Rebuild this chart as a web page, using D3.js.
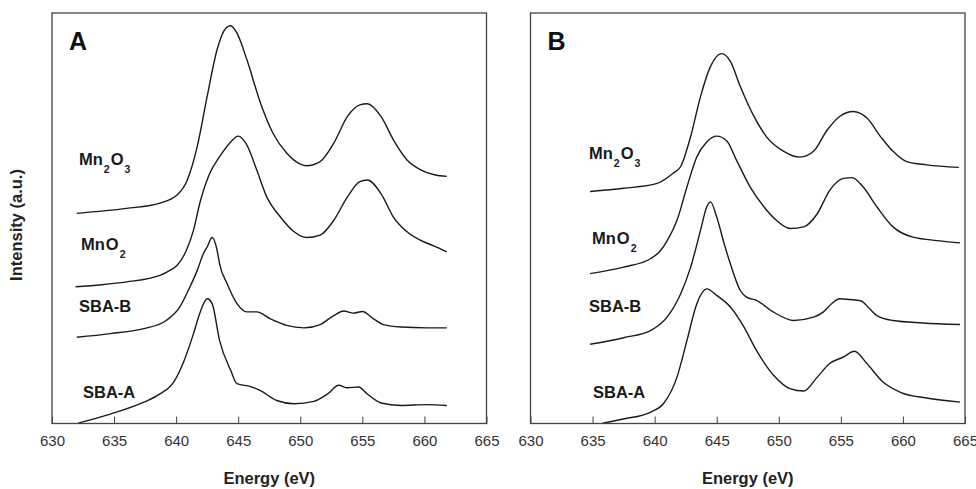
<!DOCTYPE html>
<html lang="en">
<head>
  <meta charset="utf-8" />
  <title>Mn L-edge spectra</title>
  <style>
    html, body { margin: 0; background: #fff; }
    svg { display: block; font-family: Arial, "Liberation Sans", sans-serif; }
  </style>
  <script src="https://cdn.jsdelivr.net/npm/d3@7"></script>
</head>
<body>
<script>
// Energy (eV), intensity (a.u., offset stacked as printed)
const aMn2O3 = [[632.0,51.2],[636.0,52.4],[638.7,53.7],[640.1,55.7],[640.9,59.3],[641.7,67.5],[642.5,79.7],[643.3,91.1],[644.0,96.3],[644.4,96.9],[644.9,95.1],[645.7,88.6],[646.8,78.0],[647.8,70.7],[648.9,65.9],[650.0,63.2],[650.5,62.8],[651.6,63.8],[652.7,68.3],[653.8,74.8],[654.8,77.6],[655.4,77.9],[656.5,74.8],[657.5,69.1],[658.6,64.2],[659.7,61.8],[660.8,60.6],[661.8,60.2]];
const aMnO2 = [[631.9,33.3],[634.0,33.8],[636.0,34.5],[638.7,36.1],[639.5,37.3],[640.1,38.6],[640.8,42.0],[641.4,47.1],[641.9,53.6],[642.7,60.9],[643.5,65.0],[644.4,68.6],[645.0,70.0],[645.7,67.8],[646.5,61.7],[647.3,55.2],[648.4,50.3],[649.5,46.7],[650.5,45.3],[651.6,45.9],[652.7,49.5],[653.8,55.2],[654.8,58.9],[655.4,59.3],[656.5,56.0],[657.5,50.3],[658.6,46.7],[659.7,44.6],[660.8,43.2],[661.8,41.8]];
const aSBAB = [[632.0,21.0],[634.7,21.9],[637.4,23.1],[639.2,25.1],[640.3,28.4],[641.1,33.2],[641.7,37.3],[642.2,41.4],[642.5,43.0],[642.9,45.3],[643.3,42.2],[643.5,38.9],[644.1,34.1],[644.9,29.2],[645.7,27.2],[646.5,27.2],[647.6,25.5],[648.9,23.9],[650.3,23.3],[651.6,24.1],[652.7,26.3],[653.5,27.4],[654.3,26.9],[655.0,27.3],[655.9,25.5],[656.7,24.1],[658.1,23.5],[660.2,23.3],[661.8,23.3]];
const aSBAA = [[632.1,0.1],[634.7,2.3],[637.4,5.2],[638.7,7.2],[639.8,10.1],[640.6,15.0],[641.4,21.9],[641.9,26.8],[642.5,30.4],[642.9,29.2],[643.5,20.2],[644.4,12.9],[644.9,9.7],[646.0,9.0],[646.8,8.0],[648.1,5.6],[649.5,4.8],[651.1,5.4],[652.2,7.2],[653.1,9.3],[653.8,8.7],[654.7,8.9],[655.4,7.2],[656.5,5.0],[658.1,4.4],[660.2,4.6],[661.8,4.4]];

const bMn2O3 = [[634.8,56.5],[637.5,57.3],[640.2,58.5],[641.5,61.0],[642.1,62.6],[642.9,69.9],[643.7,79.7],[644.5,87.0],[645.4,90.1],[646.1,88.2],[646.9,82.1],[648.0,74.8],[649.0,69.9],[650.4,66.3],[651.7,64.9],[652.8,66.3],[653.9,71.5],[654.9,74.8],[656.0,76.0],[657.1,74.4],[658.2,69.9],[659.2,66.3],[660.3,63.8],[661.9,63.0],[664.5,62.4]];
const bMnO2 = [[634.8,36.5],[637.5,38.1],[639.7,40.2],[640.5,42.2],[641.0,44.5],[641.8,49.5],[642.6,57.6],[643.4,65.0],[644.2,68.6],[645.0,70.0],[645.8,68.9],[646.6,64.1],[647.7,57.6],[648.8,52.8],[649.8,49.5],[650.9,47.5],[652.0,47.9],[653.1,51.1],[654.1,56.8],[655.2,59.7],[655.9,59.9],[656.8,57.6],[657.9,52.8],[659.2,47.9],[660.8,45.4],[663.0,44.5],[664.6,44.0]];
const bSBAB = [[634.8,19.3],[637.5,20.9],[639.7,22.7],[641.0,25.9],[642.1,31.6],[642.9,38.1],[643.7,47.1],[644.2,52.8],[644.5,54.0],[645.0,50.3],[645.6,43.8],[646.1,38.9],[646.9,32.4],[647.4,30.8],[648.2,30.0],[649.6,27.1],[651.2,25.1],[652.8,25.9],[653.6,27.2],[654.3,29.3],[654.9,30.4],[655.7,30.2],[656.6,29.9],[657.3,28.0],[657.9,26.3],[659.2,25.1],[661.6,24.5],[664.6,24.1]];
const bSBAA = [[635.8,0.1],[637.5,1.1],[639.7,2.8],[640.7,4.8],[641.8,11.3],[642.6,20.2],[643.4,29.2],[644.2,32.8],[645.0,31.2],[646.1,28.4],[647.2,23.5],[648.2,17.8],[649.6,11.7],[650.9,8.5],[652.0,7.9],[653.1,11.3],[654.1,14.6],[655.2,16.2],[656.1,17.6],[657.1,14.6],[658.4,10.1],[659.8,7.6],[661.9,6.2],[664.6,5.2]];

const xTicks = [630, 635, 640, 645, 650, 655, 660, 665];
const panelLetters = ["A", "B"];
const seriesNames = [["Mn", "2", "O", "3"], ["Mn", "O", "2"], ["SBA-B"], ["SBA-A"]];

const W = 976, H = 489;
const plotTop = 13, plotBottom = 423.5;
const panels = [
  { letter: panelLetters[0], left: 52, right: 486.5, series: [aMn2O3, aMnO2, aSBAB, aSBAA],
    labels: [[78, 165], [80, 250], [79, 312], [83, 398]] },
  { letter: panelLetters[1], left: 530.5, right: 965, series: [bMn2O3, bMnO2, bSBAB, bSBAA],
    labels: [[588, 159], [591, 244], [589, 312], [593, 398]] }
];

const svg = d3.select("body").append("svg").attr("width", W).attr("height", H);
const y = d3.scaleLinear().domain([0, 100]).range([plotBottom, plotTop]);

panels.forEach(p => {
  const x = d3.scaleLinear().domain([630, 665]).range([p.left, p.right]);
  const g = svg.append("g");

  const line = d3.line().x(d => x(d[0])).y(d => y(d[1])).curve(d3.curveMonotoneX);
  p.series.forEach(s => {
    g.append("path").datum(s).attr("d", line)
      .attr("fill", "none").attr("stroke", "#1a1a1a").attr("stroke-width", 1.4);
  });

  // bottom axis, ticks pointing into the plot
  const ax = g.append("g").attr("transform", `translate(0,${plotBottom})`)
    .call(d3.axisBottom(x).tickValues(xTicks).tickSize(-7).tickPadding(12).tickFormat(d3.format("d")));
  ax.select(".domain").remove();
  ax.selectAll(".tick line").attr("stroke", "#444");
  ax.selectAll(".tick text").attr("font-size", 15).attr("fill", "#333")
    .attr("font-family", "Arial, 'Liberation Sans', sans-serif");

  g.append("rect").attr("x", p.left).attr("y", plotTop)
    .attr("width", p.right - p.left).attr("height", plotBottom - plotTop)
    .attr("fill", "none").attr("stroke", "#444").attr("stroke-width", 1.3);

  g.append("text").attr("x", p.left + 17).attr("y", 49.5)
    .attr("font-size", 25).attr("font-weight", "bold").attr("fill", "#111").text(p.letter);

  g.append("text").attr("x", (p.left + p.right) / 2).attr("y", 484)
    .attr("text-anchor", "middle").attr("font-size", 16.5).attr("font-weight", "bold")
    .attr("fill", "#222").text("Energy (eV)");

  seriesNames.forEach((parts, i) => {
    const [lx, ly] = p.labels[i];
    const t = g.append("text").attr("x", lx).attr("y", ly)
      .attr("font-size", 16.5).attr("font-weight", "bold").attr("fill", "#1a1a1a");
    if (parts.length === 1) { t.text(parts[0]); return; }
    let down = false;
    parts.forEach(s => {
      const isSub = /^\d$/.test(s);
      const dy = isSub && !down ? 8 : (!isSub && down ? -8 : 0);
      down = isSub;
      t.append("tspan").attr("dy", dy).attr("font-size", isSub ? 10.5 : 16.5)
        .attr("dx", 1).text(s);
    });
  });
});

svg.append("text").attr("transform", "translate(22,225) rotate(-90)")
  .attr("text-anchor", "middle").attr("font-size", 16.5).attr("font-weight", "bold")
  .attr("fill", "#222").text("Intensity (a.u.)");
</script>
</body>
</html>
